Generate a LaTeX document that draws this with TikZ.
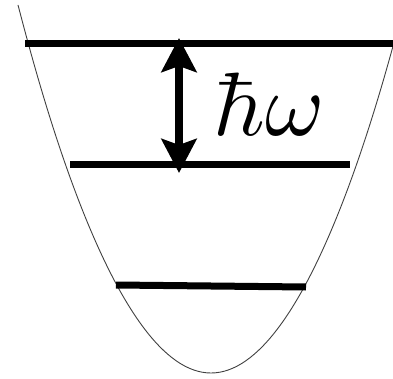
\documentclass[tikz,border=0pt]{standalone}
\usetikzlibrary{arrows.meta}
\begin{document}
\begin{tikzpicture}[x=1pt,y=-1pt,
  level/.style={line width=7pt},
  well/.style={draw=black!75, line width=0.9pt},
  gaparrow/.style={line width=8pt,
    {Stealth[length=34pt,width=35pt,inset=6pt]}-{Stealth[length=34pt,width=35pt,inset=6pt]}},
  lbl/.style={inner sep=0pt, anchor=base, scale=9}]
\useasboundingbox (0,0) rectangle (393,379);
\clip (0,0) rectangle (393,379);
\coordinate (wL) at (18,5);
\coordinate (wB) at (211,373);
\coordinate (wR) at (404,5);
\draw[well] (wL) parabola bend (wB) (wR);
\coordinate (aL) at (25,43.5);
\coordinate (aR) at (393,43.5);
\coordinate (bL) at (70,165);
\coordinate (bR) at (350,165);
\coordinate (cL) at (116,285);
\coordinate (cR) at (306,287);
\draw[level] (aL) -- (aR);
\draw[level] (bL) -- (bR);
\draw[level] (cL) -- (cR);
\coordinate (t1) at (179,38);
\coordinate (t2) at (179,173);
\draw[gaparrow] (t1) -- (t2);
\node[lbl] (E) at (269,136) {$\hbar\omega$};
\end{tikzpicture}
\end{document}
